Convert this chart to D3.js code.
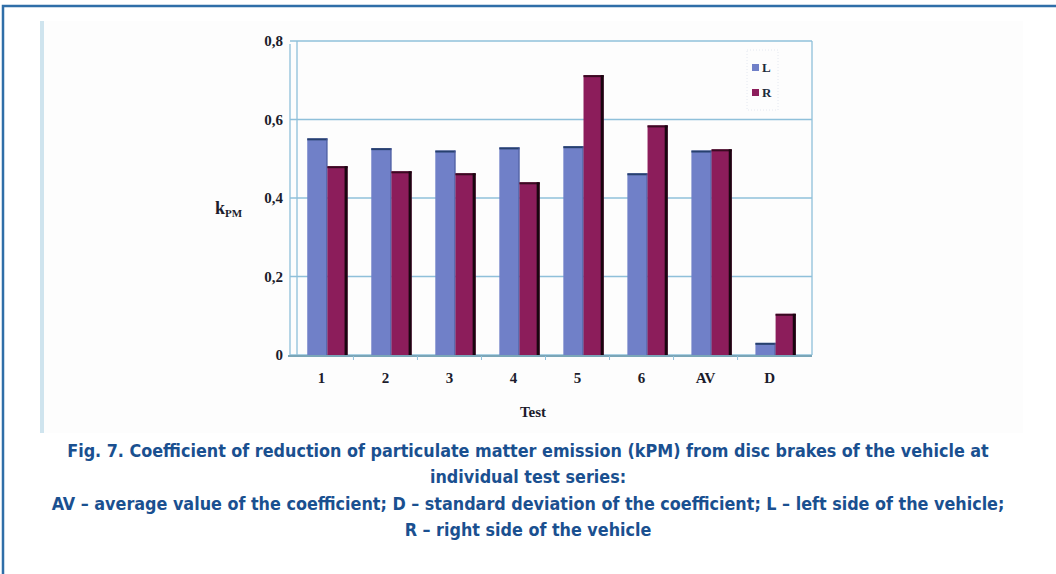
<!DOCTYPE html>
<html>
<head>
<meta charset="utf-8">
<script src="https://cdn.jsdelivr.net/npm/d3@7"></script>
<style>
  body { margin: 0; background: #fff; }
  svg { display: block; }
</style>
</head>
<body>
<svg id="chart" width="1056" height="574"></svg>
<script>
// data
var categories = ['1', '2', '3', '4', '5', '6', 'AV', 'D'];
var seriesNames = ['L', 'R'];
var valuesL = [0.552, 0.527, 0.521, 0.529, 0.532, 0.463, 0.521, 0.031];
var valuesR = [0.481, 0.468, 0.463, 0.440, 0.713, 0.585, 0.524, 0.105];
var yTicks = [0, 0.2, 0.4, 0.6, 0.8];
var captionLines = [
  'Fig. 7. Coefficient of reduction of particulate matter emission (kPM) from disc brakes of the vehicle at',
  'individual test series:',
  'AV – average value of the coefficient; D – standard deviation of the coefficient; L – left side of the vehicle;',
  'R – right side of the vehicle'
];

var colors = {L: '#7080c8', R: '#8c1d5b'};
var gridColor = '#8fc0da';
var serif = '"Liberation Serif", "DejaVu Serif", serif';

var svg = d3.select('#chart');

// outer frame (only top and left edge are inside the picture)
svg.append('path')
  .attr('d', 'M3,574 V6 H1056')
  .attr('fill', 'none')
  .attr('stroke', '#2f6ea8')
  .attr('stroke-width', 2.5);

// pasted figure area
svg.append('rect')
  .attr('x', 40).attr('y', 21).attr('width', 983).attr('height', 412)
  .attr('fill', '#fdfdfd');
svg.append('rect')
  .attr('x', 40).attr('y', 21).attr('width', 4).attr('height', 412)
  .attr('fill', '#cfe4ee');

var x0 = 297, x1 = 812, yTop = 41, yBot = 355;

var x = d3.scaleBand()
  .domain(categories)
  .range([x0, 806])
  .paddingInner(0.37)
  .paddingOuter(0.16);

var xs = d3.scaleBand()
  .domain(seriesNames)
  .range([0, x.bandwidth()]);

var y = d3.scaleLinear()
  .domain([0, 0.8])
  .range([yBot, yTop]);

// gridlines
svg.append('g')
  .selectAll('line')
  .data(yTicks)
  .enter()
  .append('line')
  .attr('x1', 290).attr('x2', x1)
  .attr('y1', function(d) { return y(d); })
  .attr('y2', function(d) { return y(d); })
  .attr('stroke', gridColor)
  .attr('stroke-width', 1.3);

// walls
svg.append('line')
  .attr('x1', 290).attr('x2', 290).attr('y1', yTop + 3).attr('y2', yBot + 2)
  .attr('stroke', gridColor).attr('stroke-width', 1.3);
svg.append('line')
  .attr('x1', x0).attr('x2', x0).attr('y1', yTop).attr('y2', yBot)
  .attr('stroke', gridColor).attr('stroke-width', 1.3);
svg.append('line')
  .attr('x1', x1).attr('x2', x1).attr('y1', yTop).attr('y2', yBot)
  .attr('stroke', gridColor).attr('stroke-width', 1.3);

// floor
svg.append('line')
  .attr('x1', 288).attr('x2', x1).attr('y1', yBot + 1).attr('y2', yBot + 1)
  .attr('stroke', '#7aa6b8').attr('stroke-width', 2);

// x tick marks
svg.append('g')
  .selectAll('line')
  .data(categories.slice(1))
  .enter()
  .append('line')
  .attr('x1', function(d) { return x(d) - x.step() * x.paddingInner() / 2 - 6; })
  .attr('x2', function(d) { return x(d) - x.step() * x.paddingInner() / 2 - 6; })
  .attr('y1', yBot + 1).attr('y2', yBot + 5)
  .attr('stroke', gridColor).attr('stroke-width', 1);

// bars
var rows = categories.map(function(c, i) {
  return {cat: c, L: valuesL[i], R: valuesR[i]};
});

var groups = svg.append('g')
  .selectAll('g')
  .data(rows)
  .enter()
  .append('g')
  .attr('transform', function(d) { return 'translate(' + x(d.cat) + ',0)'; });

var bars = groups.selectAll('g')
  .data(function(d) {
    return seriesNames.map(function(s) { return {key: s, value: d[s]}; });
  })
  .enter()
  .append('g');

bars.append('rect')
  .attr('x', function(d) { return xs(d.key); })
  .attr('y', function(d) { return y(d.value); })
  .attr('width', xs.bandwidth())
  .attr('height', function(d) { return yBot - y(d.value); })
  .attr('fill', function(d) { return colors[d.key]; });

// darker top edge
bars.append('rect')
  .attr('x', function(d) { return xs(d.key); })
  .attr('y', function(d) { return y(d.value); })
  .attr('width', xs.bandwidth())
  .attr('height', 2)
  .attr('fill', function(d) { return d.key === 'L' ? '#27406e' : '#3a0a22'; });

// dark right side
bars.append('rect')
  .attr('x', function(d) { return xs(d.key) + xs.bandwidth() - (d.key === 'R' ? 3 : 1); })
  .attr('y', function(d) { return y(d.value); })
  .attr('width', function(d) { return d.key === 'R' ? 3 : 1; })
  .attr('height', function(d) { return yBot - y(d.value); })
  .attr('fill', function(d) { return d.key === 'R' ? '#1a0610' : '#4a5a9a'; });

// y tick labels
svg.append('g')
  .selectAll('text')
  .data(yTicks)
  .enter()
  .append('text')
  .attr('x', 283)
  .attr('y', function(d) { return y(d) + 5; })
  .attr('text-anchor', 'end')
  .attr('font-family', serif)
  .attr('font-weight', 'bold')
  .attr('font-size', 15)
  .attr('fill', '#1c1c2c')
  .text(function(d) { return d === 0 ? '0' : d3.format('.1f')(d).replace('.', ','); });

// x tick labels
svg.append('g')
  .selectAll('text')
  .data(categories)
  .enter()
  .append('text')
  .attr('x', function(d) { return x(d) + x.bandwidth() / 2 - 6; })
  .attr('y', 383)
  .attr('text-anchor', 'middle')
  .attr('font-family', serif)
  .attr('font-weight', 'bold')
  .attr('font-size', 15)
  .attr('fill', '#1c1c2c')
  .text(function(d) { return d; });

// axis titles
svg.append('text')
  .attr('x', 533).attr('y', 417)
  .attr('text-anchor', 'middle')
  .attr('font-family', serif)
  .attr('font-weight', 'bold')
  .attr('font-size', 15)
  .attr('fill', '#1c1c2c')
  .text('Test');

var kt = svg.append('text')
  .attr('x', 215).attr('y', 214)
  .attr('font-family', serif)
  .attr('font-weight', 'bold')
  .attr('font-size', 18)
  .attr('fill', '#1c1c2c');
kt.append('tspan').text('k');
kt.append('tspan').attr('font-size', 11).attr('dy', 3).text('PM');

// legend
var legend = svg.append('g').attr('transform', 'translate(752,64)');
legend.append('rect')
  .attr('x', -5).attr('y', -14).attr('width', 31).attr('height', 60)
  .attr('fill', 'none')
  .attr('stroke', '#e4e8f0')
  .attr('stroke-dasharray', '1,2');
var li = legend.selectAll('g')
  .data(seriesNames)
  .enter()
  .append('g')
  .attr('transform', function(d, i) { return 'translate(0,' + i * 25 + ')'; });
li.append('rect')
  .attr('width', 7).attr('height', 7)
  .attr('fill', function(d) { return colors[d]; });
li.append('text')
  .attr('x', 10).attr('y', 7.5)
  .attr('font-family', serif)
  .attr('font-weight', 'bold')
  .attr('font-size', 13)
  .attr('fill', '#1c2c3c')
  .text(function(d) { return d; });

// caption
svg.append('g')
  .selectAll('text')
  .data(captionLines)
  .enter()
  .append('text')
  .attr('x', 528)
  .attr('y', function(d, i) { return 457 + i * 26.3; })
  .attr('text-anchor', 'middle')
  .attr('font-family', '"DejaVu Sans Condensed", "DejaVu Sans", sans-serif')
  .attr('font-stretch', 'condensed')
  .attr('font-weight', 'bold')
  .attr('font-size', 17.8)
  .attr('fill', '#1a5090')
  .text(function(d) { return d; });
</script>
</body>
</html>
